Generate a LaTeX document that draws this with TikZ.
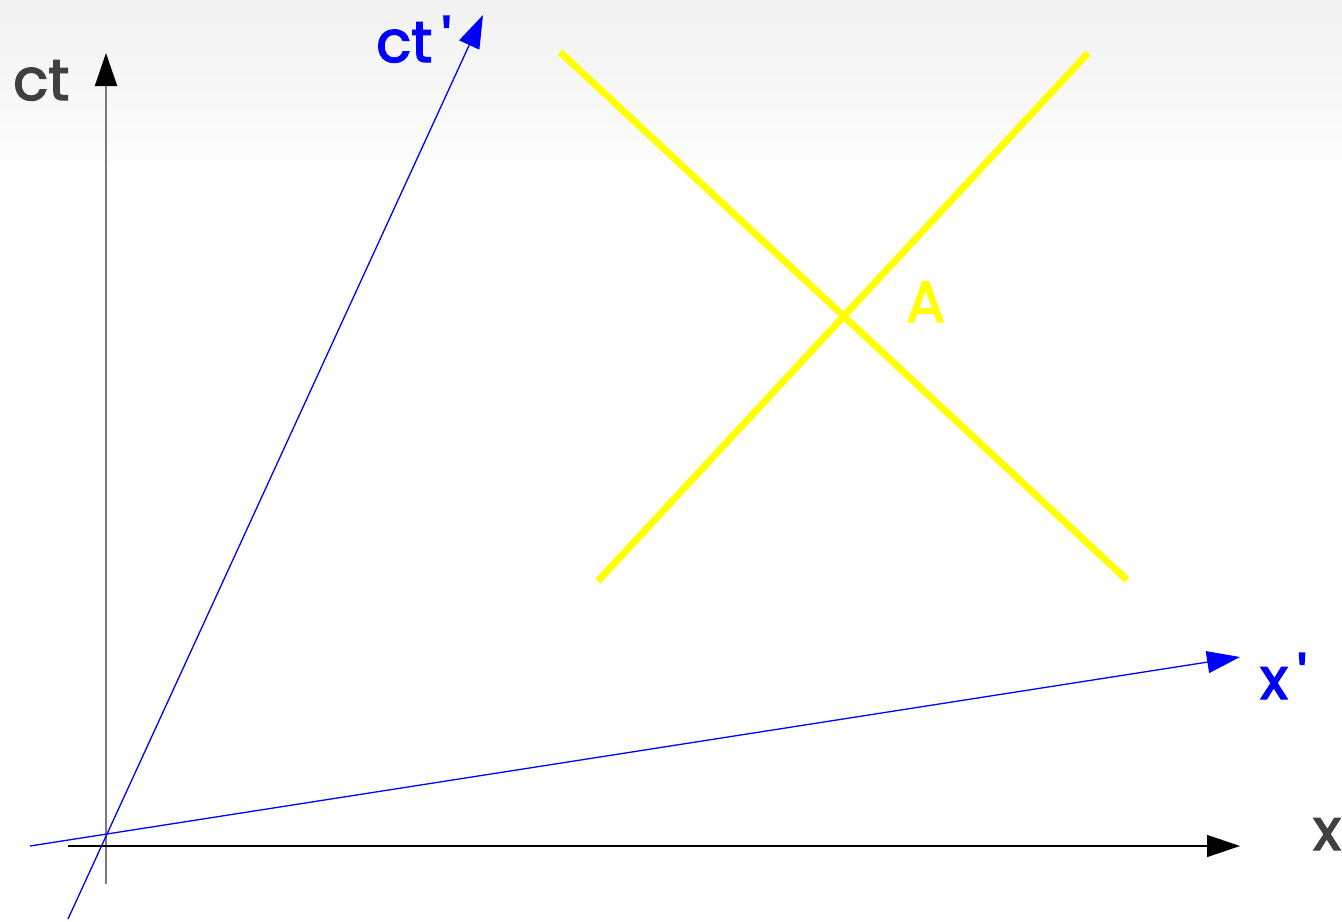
\documentclass[tikz,border=0pt]{standalone}
\usepackage{fontspec}
\setmainfont{Poppins}
\newfontfamily\labfont{Poppins}[FakeBold=2.5]
\usetikzlibrary{arrows.meta}
\definecolor{lbl}{HTML}{404040}
\definecolor{axgray}{HTML}{7A7A7A}
\definecolor{pureblue}{HTML}{0000FF}
\definecolor{pureyellow}{HTML}{FFFF00}
\tikzset{
  lab/.style={anchor=base west, inner sep=0pt, font=\labfont\fontsize{58}{60}\selectfont},
  tip/.style={-{Triangle[length=33bp,width=22bp]}},
  newaxis/.style={draw=pureblue, line width=1.3bp, tip},
  worldline/.style={draw=pureyellow, line width=7bp},
}
\begin{document}
\begin{tikzpicture}[x=1bp,y=-1bp]
\useasboundingbox (0,0) rectangle (1342,921);
\clip (0,0) rectangle (1342,921);
\fill[white] (0,0) rectangle (1342,921);
\shade[top color={rgb,255:red,242;green,242;blue,242}, bottom color={rgb,255:red,252;green,252;blue,252}] (0,0) rectangle (1342,165);

% coordinates
\coordinate (ctb) at (106,884);
\coordinate (ctt) at (106,53);
\coordinate (xl) at (68,846);
\coordinate (xr) at (1240,846);
\coordinate (cpb) at (68,919);
\coordinate (cpt) at (483,15);
\coordinate (xpl) at (30,846);
\coordinate (xpr) at (1240,657);
\coordinate (y1a) at (560,52);
\coordinate (y1b) at (1127,580);
\coordinate (y2a) at (598,581);
\coordinate (y2b) at (1088,53);

% old axes
\draw[axgray, line width=2bp, -{Triangle[length=33bp,width=22bp,color=black]}] (ctb) -- (ctt);
\draw[black, line width=1.3bp, tip] (xl) -- (xr);

% new axes
\draw[newaxis] (cpb) -- (cpt);
\draw[newaxis] (xpl) -- (xpr);

% world lines
\draw[worldline] (y1a) -- (y1b);
\draw[worldline] (y2a) -- (y2b);

% labels
\node[lab, text=lbl] (lct) at (13,100) {ct};
\node[lab, text=pureblue] (lctp) at (376,62) {ct\,\textquotesingle};
\node[lab, text=pureblue] (lxp) at (1260,699) {x\,\textquotesingle};
\node[lab, text=lbl] (lx) at (1313,850) {x};
\node[lab, text=pureyellow] (lA) at (906,322) {A};
\end{tikzpicture}
\end{document}
